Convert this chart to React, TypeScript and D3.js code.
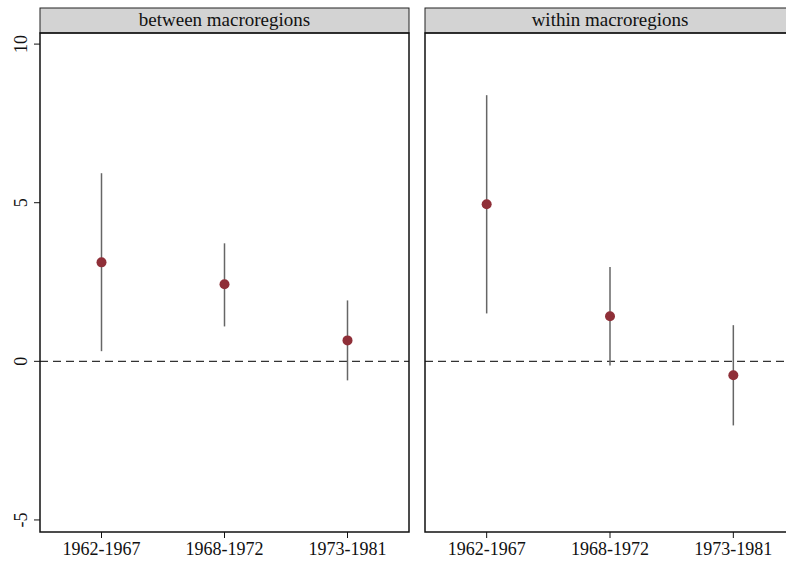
import React from "react";
import * as d3 from "d3";

const periods = ["1962-1967", "1968-1972", "1973-1981"];
const panels = ["between macroregions", "within macroregions"];
const estimates = [
  [3.12, 2.43, 0.66],
  [4.95, 1.42, -0.44],
];
const lowerCI = [
  [0.32, 1.1, -0.6],
  [1.51, -0.13, -2.02],
];
const upperCI = [
  [5.93, 3.72, 1.92],
  [8.39, 2.97, 1.14],
];
const yTicks = [-5, 0, 5, 10];

const W = 786;
const H = 561;
const top = 33;
const bottom = 532;
const panelX = [
  [40, 409],
  [425, 795],
];

export default function App() {
  const y = d3.scaleLinear().domain([-5.38, 10.35]).range([bottom, top]);
  const font = "Liberation Serif, DejaVu Serif, serif";

  return (
    <svg
      width={W}
      height={H}
      style={{ position: "absolute", left: 0, top: 0, background: "#fff", fontFamily: font }}
    >
      {panels.map((title, p) => {
        const [x0, x1] = panelX[p];
        const x = d3.scalePoint().domain(periods).range([x0, x1]).padding(0.5);
        return (
          <g key={title}>
            {/* strip header */}
            <rect x={x0} y={8} width={x1 - x0} height={top - 8} fill="#d3d3d3" stroke="#222" strokeWidth={1} />
            <text x={(x0 + x1) / 2} y={26} textAnchor="middle" fontSize={19} fill="#111" style={{ fontFamily: font }}>
              {title}
            </text>
            {/* zero line */}
            <line x1={x0} x2={x1} y1={y(0)} y2={y(0)} stroke="#333" strokeWidth={1.3} strokeDasharray="8,5" />
            {/* CIs and points */}
            {periods.map((d, i) => (
              <g key={d}>
                <line
                  x1={x(d)}
                  x2={x(d)}
                  y1={y(lowerCI[p][i])}
                  y2={y(upperCI[p][i])}
                  stroke="#666"
                  strokeWidth={1.5}
                />
                <circle cx={x(d)} cy={y(estimates[p][i])} r={5} fill="#8f2f38" />
              </g>
            ))}
            {/* frame */}
            <rect x={x0} y={top} width={x1 - x0} height={bottom - top} fill="none" stroke="#111" strokeWidth={1.5} />
            {/* x axis ticks */}
            {periods.map((d) => (
              <g key={d}>
                <line x1={x(d)} x2={x(d)} y1={bottom} y2={bottom + 6} stroke="#111" strokeWidth={1} />
                <text x={x(d)} y={bottom + 23} textAnchor="middle" fontSize={18} fill="#111" style={{ fontFamily: font }}>
                  {d}
                </text>
              </g>
            ))}
            {/* y axis on first panel */}
            {p === 0 &&
              yTicks.map((t) => (
                <g key={t}>
                  <line x1={x0 - 6} x2={x0} y1={y(t)} y2={y(t)} stroke="#111" strokeWidth={1} />
                  <text
                    transform={`translate(${x0 - 13},${y(t)}) rotate(-90)`}
                    textAnchor="middle"
                    fontSize={18}
                    fill="#111"
                    style={{ fontFamily: font }}
                  >
                    {t}
                  </text>
                </g>
              ))}
          </g>
        );
      })}
    </svg>
  );
}
